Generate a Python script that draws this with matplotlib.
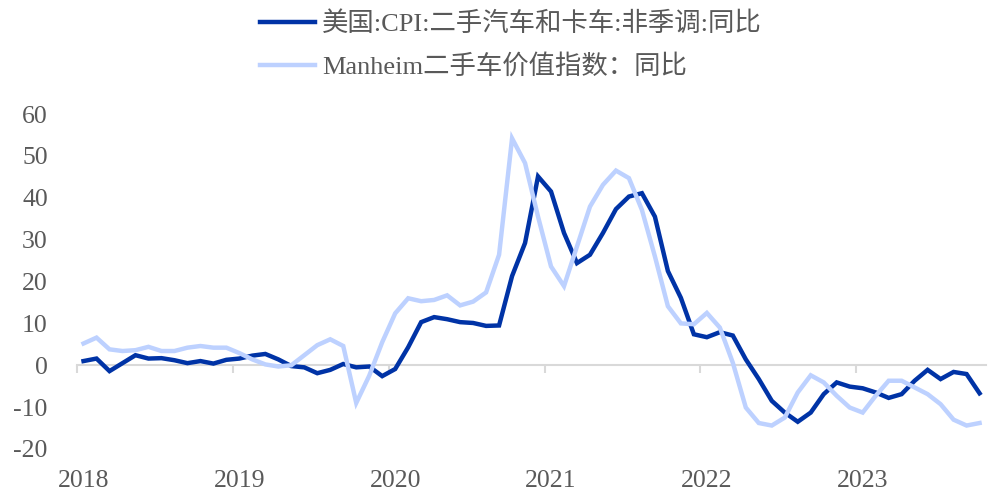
import matplotlib
matplotlib.use('Agg')
import matplotlib.pyplot as plt

plt.rcParams['font.family'] = ['Liberation Serif', 'Noto Sans CJK SC']
plt.rcParams['axes.unicode_minus'] = False

# monthly, 2018-01 .. 2023-10
years = ['2018', '2019', '2020', '2021', '2022', '2023']

cpi_used_cars = [1.0, 1.6, -1.4, 0.5, 2.4, 1.6, 1.7, 1.2, 0.5, 1.0, 0.4, 1.3,
                 1.6, 2.3, 2.7, 1.4, -0.2, -0.5, -1.9, -1.1, 0.3, -0.5, -0.3, -2.6,
                 -0.9, 4.3, 10.3, 11.5, 11.0, 10.3, 10.1, 9.4, 9.5, 21.3, 29.2, 45.1,
                 41.5, 31.6, 24.4, 26.4, 31.6, 37.3, 40.3, 41.1, 35.5, 22.5, 16.1, 7.4,
                 6.7, 7.9, 7.1, 1.4, -3.3, -8.5, -11.3, -13.5, -11.3, -6.9, -4.1, -5.1,
                 -5.5, -6.5, -7.8, -6.9, -3.7, -1.1, -3.3, -1.6, -2.1, -6.7]

manheim = [5.2, 6.6, 3.8, 3.4, 3.6, 4.4, 3.4, 3.4, 4.2, 4.6, 4.2, 4.2,
           2.9, 1.4, 0.2, -0.3, 0.0, 2.4, 4.8, 6.2, 4.6, -9.0, -2.5, 5.5,
           12.4, 16.0, 15.3, 15.6, 16.7, 14.3, 15.2, 17.4, 26.4, 54.2, 48.3, 35.5,
           23.6, 18.9, 28.4, 37.9, 43.1, 46.5, 44.7, 37.1, 26.0, 14.1, 10.0, 9.8,
           12.5, 9.0, 0.6, -10.1, -13.8, -14.4, -12.5, -6.5, -2.4, -4.1, -7.3, -10.1,
           -11.3, -7.3, -3.7, -3.7, -5.3, -6.9, -9.3, -13.0, -14.4, -13.8]

x = list(range(len(cpi_used_cars)))

fig = plt.figure(figsize=(9.94, 4.96), dpi=100)
ax = fig.add_axes([0.0775, 0.0948, 0.9145, 0.6752])

ax.plot(x, cpi_used_cars, color='#0033A6', lw=3.2, solid_joinstyle='miter',
        label='美国:CPI:二手汽车和卡车:非季调:同比')
ax.plot(x, manheim, color='#BDD1FF', lw=3.2, solid_joinstyle='miter',
        label='Manheim二手车价值指数：同比')

ax.set_xlim(-0.5, len(x) - 0.5)
ax.set_ylim(-20, 60)
ax.set_yticks(range(-20, 61, 10))

for s in ['top', 'right', 'left']:
    ax.spines[s].set_visible(False)
ax.spines['bottom'].set_position(('data', 0))
ax.spines['bottom'].set_color('#D9D9D9')
ax.spines['bottom'].set_linewidth(1.5)
ax.spines['bottom'].set_zorder(0)

# year boundaries as ticks on the zero line
ax.set_xticks([i * 12 - 0.5 for i in range(len(years))])
ax.tick_params(axis='x', which='major', direction='out', length=6, width=1.5,
               color='#D9D9D9', labelbottom=False)
ax.tick_params(axis='y', length=0, pad=21, labelsize=18.5, labelcolor='#595959')

sec = ax.secondary_xaxis(0.0)
sec.set_xticks([i * 12 for i in range(len(years))])
sec.set_xticklabels(years)
sec.tick_params(length=0, pad=15, labelsize=18.5, labelcolor='#595959')
sec.spines['bottom'].set_visible(False)

fig.legend(loc='upper center', bbox_to_anchor=(0.514, 1.025), ncol=1, frameon=False,
           fontsize=19, handlelength=2.1, labelspacing=0.68, handletextpad=0.25,
           labelcolor='#595959')

fig.savefig('out.png', dpi=100)
